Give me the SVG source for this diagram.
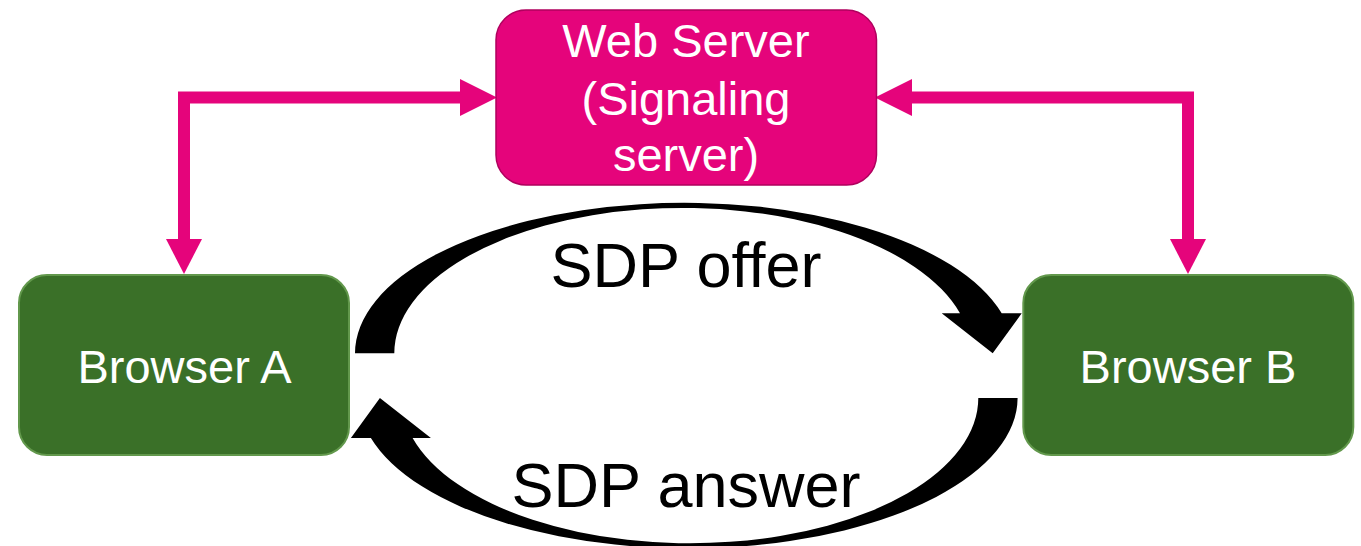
<svg xmlns="http://www.w3.org/2000/svg" width="1361" height="546" viewBox="0 0 1361 546">
  <style>
    .browser { fill: #3a7028; stroke: #62984c; stroke-width: 2; }
    .server { fill: #e5047b; stroke: #b0005e; stroke-width: 1.5; }
    .label { font-family: "Liberation Sans", Arial, sans-serif; text-anchor: middle; }
    .light { fill: #ffffff; font-size: 47px; }
    .dark { fill: #000000; font-size: 63px; }
    .wire { fill: none; stroke: #e5047b; stroke-width: 12; stroke-linejoin: miter; }
    .head { fill: #e5047b; }
    .swoop { fill: #000000; }
  </style>
  <defs>
    <!-- thick curved arrow, tapering over the top -->
    <path id="curved-arrow" d="M 355 353.3 A 329.3 150.6 0 0 1 1001.7 313.3 L 1021.7 313.3 L 992.7 353.3 L 941.7 313.3 L 960 313.3 A 288.4 145.3 0 0 0 394.3 353.3 Z"/>
  </defs>

  <g id="connectors">
    <!-- signaling links -->
    <path class="wire" d="M 184 240 V 97.5 H 461"/>
    <polygon class="head" points="166,239 202,239 184,274"/>
    <polygon class="head" points="460,79 497,97.5 460,116"/>
    <path class="wire" d="M 911 97.5 H 1188 V 240"/>
    <polygon class="head" points="912,79 875,97.5 912,116"/>
    <polygon class="head" points="1170,239 1206,239 1188,274"/>
    <!-- SDP exchange -->
    <use href="#curved-arrow" class="swoop"/>
    <use href="#curved-arrow" class="swoop" transform="rotate(180 686.3 375.6)"/>
    <text class="label dark" x="686" y="287.3">SDP offer</text>
    <text class="label dark" x="686" y="506.7">SDP answer</text>
  </g>

  <g id="web-server">
    <rect class="server" x="496" y="10" width="380.5" height="175" rx="30"/>
    <text class="label light" x="686" y="57.3">Web Server</text>
    <text class="label light" x="686" y="114.5">(Signaling</text>
    <text class="label light" x="686" y="171">server)</text>
  </g>

  <g id="browser-a">
    <rect class="browser" x="19" y="275" width="330" height="180" rx="28"/>
    <text class="label light" x="184.5" y="383.3">Browser A</text>
  </g>

  <g id="browser-b">
    <rect class="browser" x="1023.3" y="275" width="330" height="180" rx="28"/>
    <text class="label light" x="1188" y="382.7">Browser B</text>
  </g>
</svg>
